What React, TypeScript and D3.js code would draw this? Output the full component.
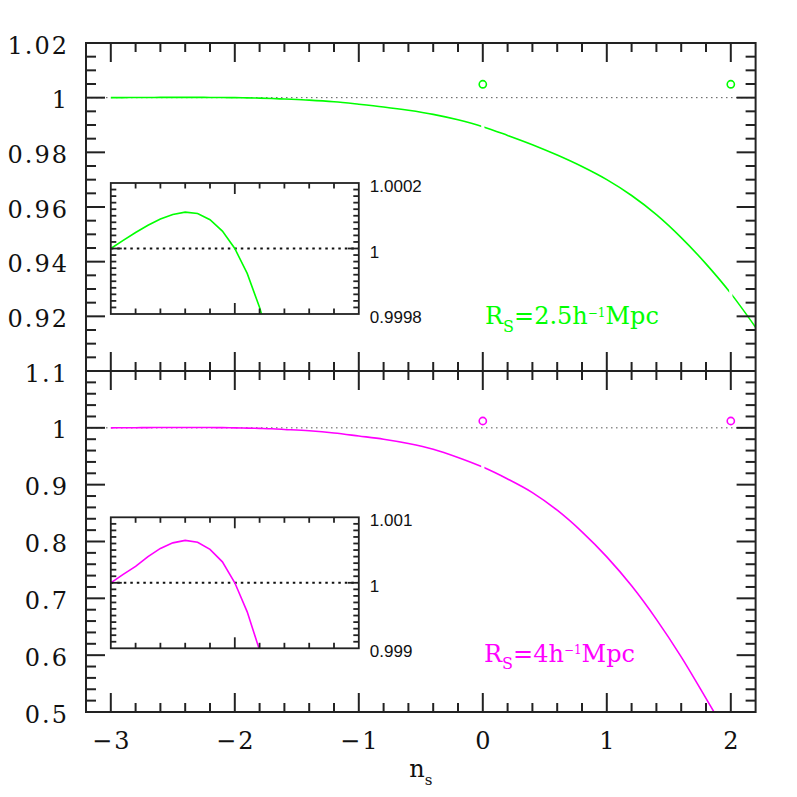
import React from "react";
import * as d3 from "d3";

// ---- data ----
const nsGrid = [-3.0, -2.9, -2.8, -2.7, -2.6, -2.5, -2.4, -2.3, -2.2, -2.1, -2.0, -1.9, -1.8, -1.7, -1.6, -1.4, -1.2, -1.0, -0.8, -0.6, -0.4, -0.2, 0.0, 0.2, 0.4, 0.6, 0.8, 1.0, 1.2, 1.4, 1.6, 1.8, 2.0, 2.2];
const ratioR25 = [1.0, 1.000025, 1.000049, 1.000071, 1.00009, 1.000104, 1.000111, 1.000107, 1.000088, 1.000053, 1.0, 0.999924, 0.99982, 0.99969, 0.9995, 0.9991, 0.9985, 0.9976, 0.9966, 0.9954, 0.9939, 0.9919, 0.9894, 0.9862, 0.9828, 0.979, 0.9748, 0.97, 0.9642, 0.9572, 0.9488, 0.9392, 0.9284, 0.916];
const ratioR4 = [1.0, 1.000128, 1.00025, 1.0004, 1.000525, 1.00061, 1.000647, 1.00062, 1.00051, 1.00032, 1.0, 0.999557, 0.99897, 0.9983, 0.9972, 0.9948, 0.991, 0.9856, 0.98, 0.9725, 0.9625, 0.948, 0.931, 0.91, 0.886, 0.855, 0.817, 0.773, 0.722, 0.663, 0.597, 0.524, 0.449, 0.37];
const circleNs = [0, 2];
const circleR25 = [1.0049, 1.0049];
const circleR4 = [1.012, 1.012];
const segmentBreaks = [0, 2];

const xTickLabels = [-3, -2, -1, 0, 1, 2];
const topYLabels = [0.92, 0.94, 0.96, 0.98, 1, 1.02];
const botYLabels = [0.5, 0.6, 0.7, 0.8, 0.9, 1, 1.1];
const topInsetLabels = ["1.0002", "1", "0.9998"];
const botInsetLabels = ["1.001", "1", "0.999"];

const GREEN = "#00ff00";
const MAGENTA = "#ff00ff";
const INK = "#222";

function steps(a: number, b: number, step: number) {
  const n0 = Math.round(a / step);
  const n1 = Math.round(b / step);
  return d3.range(n0, n1 + 1).map((i) => +(i * step).toFixed(6));
}

const fmt = (v: number) => {
  const s = String(+v.toFixed(4));
  return s.startsWith("-") ? "\u2212" + s.slice(1) : s;
};

export default function App() {
  const L = 86, R = 755.6, T = 43, MID = 371, B = 712;
  const x = d3.scaleLinear().domain([-3.2, 2.2]).range([L, R]);
  const yTop = d3.scaleLinear().domain([0.9, 1.02]).range([MID, T]);
  const yBot = d3.scaleLinear().domain([0.5, 1.1]).range([B, MID]);

  const pts25 = nsGrid.map((n, i) => [n, ratioR25[i]] as [number, number]);
  const pts4 = nsGrid.map((n, i) => [n, ratioR4[i]] as [number, number]);

  const lineTop = d3.line<[number, number]>().x((d) => x(d[0])).y((d) => yTop(d[1])).curve(d3.curveMonotoneX);
  const lineBot = d3.line<[number, number]>().x((d) => x(d[0])).y((d) => yBot(d[1])).curve(d3.curveMonotoneX);

  // insets
  const ixL = x(-3), ixR = x(-1);
  const insetTop = { t: 183, b: 314 };
  const insetBot = { t: 517.3, b: 648.3 };
  const ix = d3.scaleLinear().domain([-3, -1]).range([ixL, ixR]);
  const iyTop = d3.scaleLinear().domain([0.9998, 1.0002]).range([insetTop.b, insetTop.t]);
  const iyBot = d3.scaleLinear().domain([0.999, 1.001]).range([insetBot.b, insetBot.t]);
  const iLineTop = d3.line<[number, number]>().x((d) => ix(d[0])).y((d) => iyTop(d[1]));
  const iLineBot = d3.line<[number, number]>().x((d) => ix(d[0])).y((d) => iyBot(d[1]));

  // segments of the main curve (small pen-lifts at the segment breaks)
  const edges = [L, ...segmentBreaks.map((b) => x(b)), R];
  const segRects = (y0: number, y1: number, key: string) =>
    edges.slice(0, -1).map((e, i) => {
      const a = i === 0 ? e : e + 1.6;
      const b = i === edges.length - 2 ? edges[i + 1] : edges[i + 1] - 1.6;
      return <rect key={`${key}${i}`} x={a} y={y0} width={b - a} height={y1 - y0} />;
    });

  const xMinor = steps(-3.2, 2.2, 0.2).filter((v) => v > -3.2 && v < 2.2);
  const xMajor = steps(-3, 2, 1);

  const panelTicks = (
    y: d3.ScaleLinear<number, number>,
    minorStep: number,
    majorStep: number,
    lo: number,
    hi: number,
    top: number,
    bottom: number,
    key: string
  ) => {
    const els: React.ReactElement[] = [];
    const yMinor = steps(lo, hi, minorStep).filter((v) => v > lo + 1e-9 && v < hi - 1e-9);
    const yMajor = steps(lo, hi, majorStep).filter((v) => v > lo + 1e-9 && v < hi - 1e-9);
    yMinor.forEach((v, i) => {
      const isMaj = yMajor.some((m) => Math.abs(m - v) < 1e-9);
      const len = isMaj ? 19 : 10;
      els.push(<line key={`${key}yl${i}`} x1={L} x2={L + len} y1={y(v)} y2={y(v)} />);
      els.push(<line key={`${key}yr${i}`} x1={R} x2={R - len} y1={y(v)} y2={y(v)} />);
    });
    xMinor.forEach((v, i) => {
      const isMaj = xMajor.some((m) => Math.abs(m - v) < 1e-9);
      const len = isMaj ? 19 : 9;
      els.push(<line key={`${key}xt${i}`} x1={x(v)} x2={x(v)} y1={top} y2={top + len} />);
      els.push(<line key={`${key}xb${i}`} x1={x(v)} x2={x(v)} y1={bottom} y2={bottom - len} />);
    });
    return els;
  };

  const insetTicks = (
    iy: d3.ScaleLinear<number, number>,
    lo: number,
    hi: number,
    t: number,
    b: number,
    key: string
  ) => {
    const els: React.ReactElement[] = [];
    const step = (hi - lo) / 20;
    d3.range(1, 20).forEach((i) => {
      const v = lo + i * step;
      const len = i === 10 ? 11 : 5.5;
      els.push(<line key={`${key}l${i}`} x1={ixL} x2={ixL + len} y1={iy(v)} y2={iy(v)} />);
      els.push(<line key={`${key}r${i}`} x1={ixR} x2={ixR - len} y1={iy(v)} y2={iy(v)} />);
    });
    steps(-3, -1, 0.2).filter((v) => v > -3 + 1e-9 && v < -1 - 1e-9).forEach((v, i) => {
      const len = Math.abs(v + 2) < 1e-9 ? 11 : 5.5;
      els.push(<line key={`${key}t${i}`} x1={ix(v)} x2={ix(v)} y1={t} y2={t + len} />);
      els.push(<line key={`${key}b${i}`} x1={ix(v)} x2={ix(v)} y1={b} y2={b - len} />);
    });
    return els;
  };

  const serif = "'DejaVu Serif', serif";
  const sans = "'Liberation Sans', Arial, sans-serif";

  return (
    <svg width={797} height={797} style={{ position: "absolute", left: 0, top: 0, background: "#fff" }}>
      <defs>
        <clipPath id="clipTop">{segRects(T, MID, "st")}</clipPath>
        <clipPath id="clipBot">{segRects(MID, B, "sb")}</clipPath>
        <clipPath id="clipITop"><rect x={ixL} y={insetTop.t} width={ixR - ixL} height={insetTop.b - insetTop.t} /></clipPath>
        <clipPath id="clipIBot"><rect x={ixL} y={insetBot.t} width={ixR - ixL} height={insetBot.b - insetBot.t} /></clipPath>
      </defs>

      {/* reference lines y=1 */}
      <line x1={L} x2={R} y1={yTop(1)} y2={yTop(1)} stroke="#555" strokeWidth={1} strokeDasharray="1.5,3.5" />
      <line x1={L} x2={R} y1={yBot(1)} y2={yBot(1)} stroke="#555" strokeWidth={1} strokeDasharray="1.5,3.5" />

      {/* main curves */}
      <path d={lineTop(pts25) || ""} fill="none" stroke={GREEN} strokeWidth={1.6} clipPath="url(#clipTop)" />
      <path d={lineBot(pts4) || ""} fill="none" stroke={MAGENTA} strokeWidth={1.6} clipPath="url(#clipBot)" />

      {/* circles */}
      {circleNs.map((n, i) => (
        <circle key={`c25${i}`} cx={x(n)} cy={yTop(circleR25[i])} r={3.6} fill="none" stroke={GREEN} strokeWidth={1.6} />
      ))}
      {circleNs.map((n, i) => (
        <circle key={`c4${i}`} cx={x(n)} cy={yBot(circleR4[i])} r={3.6} fill="none" stroke={MAGENTA} strokeWidth={1.6} />
      ))}

      {/* frames and ticks */}
      <g stroke={INK} strokeWidth={2} fill="none">
        <rect x={L} y={T} width={R - L} height={B - T} />
        <line x1={L} x2={R} y1={MID} y2={MID} />
        {panelTicks(yTop, 0.005, 0.02, 0.9, 1.02, T, MID, "top")}
        {panelTicks(yBot, 0.02, 0.1, 0.5, 1.1, MID, B, "bot")}
      </g>

      {/* insets */}
      <line x1={ixL} x2={ixR} y1={iyTop(1)} y2={iyTop(1)} stroke="#111" strokeWidth={2} strokeDasharray="2.5,4" />
      <line x1={ixL} x2={ixR} y1={iyBot(1)} y2={iyBot(1)} stroke="#111" strokeWidth={2} strokeDasharray="2.5,4" />
      <path d={iLineTop(pts25) || ""} fill="none" stroke={GREEN} strokeWidth={1.6} clipPath="url(#clipITop)" />
      <path d={iLineBot(pts4) || ""} fill="none" stroke={MAGENTA} strokeWidth={1.6} clipPath="url(#clipIBot)" />
      <g stroke={INK} strokeWidth={1.8} fill="none">
        <rect x={ixL} y={insetTop.t} width={ixR - ixL} height={insetTop.b - insetTop.t} />
        <rect x={ixL} y={insetBot.t} width={ixR - ixL} height={insetBot.b - insetBot.t} />
        {insetTicks(iyTop, 0.9998, 1.0002, insetTop.t, insetTop.b, "it")}
        {insetTicks(iyBot, 0.999, 1.001, insetBot.t, insetBot.b, "ib")}
      </g>

      {/* inset labels */}
      <g fontFamily={sans} fontSize={17} fill="#111">
        {topInsetLabels.map((s, i) => (
          <text key={`itl${i}`} x={ixR + 11} y={[insetTop.t, iyTop(1), insetTop.b][i] + 9}>{s}</text>
        ))}
        {botInsetLabels.map((s, i) => (
          <text key={`ibl${i}`} x={ixR + 11} y={[insetBot.t, iyBot(1), insetBot.b][i] + 9}>{s}</text>
        ))}
      </g>

      {/* axis tick labels */}
      <g fontFamily={serif} fontSize={24} fill="#111" letterSpacing={2}>
        {topYLabels.map((v, i) => (
          <text key={`tyl${i}`} x={69} y={yTop(v) + 10.5} textAnchor="end">{fmt(v)}</text>
        ))}
        {botYLabels.map((v, i) => (
          <text key={`byl${i}`} x={69} y={yBot(v) + 10.5} textAnchor="end">{fmt(v)}</text>
        ))}
        {xTickLabels.map((v, i) => (
          <text key={`xl${i}`} x={x(v) + 1} y={748.5} textAnchor="middle">{fmt(v)}</text>
        ))}
      </g>

      {/* x-axis title */}
      <text x={(L + R) / 2} y={777} fontFamily={serif} fontSize={24} fill="#111" textAnchor="middle">
        n<tspan fontSize={15} dy={8}>s</tspan>
      </text>

      {/* panel labels */}
      <text x={485} y={324.3} fontFamily={serif} fontSize={24} fill={GREEN}>
        R<tspan fontSize={16} dy={7.4}>S</tspan><tspan dy={-7.4}>=2.5h</tspan><tspan fontSize={12} dy={-7.6}>{"\u22121"}</tspan><tspan dy={7.6}>Mpc</tspan>
      </text>
      <text x={484} y={661.7} fontFamily={serif} fontSize={24} fill={MAGENTA}>
        R<tspan fontSize={16} dy={7.4}>S</tspan><tspan dy={-7.4}>=4h</tspan><tspan fontSize={12} dy={-7.6}>{"\u22121"}</tspan><tspan dy={7.6}>Mpc</tspan>
      </text>
    </svg>
  );
}
